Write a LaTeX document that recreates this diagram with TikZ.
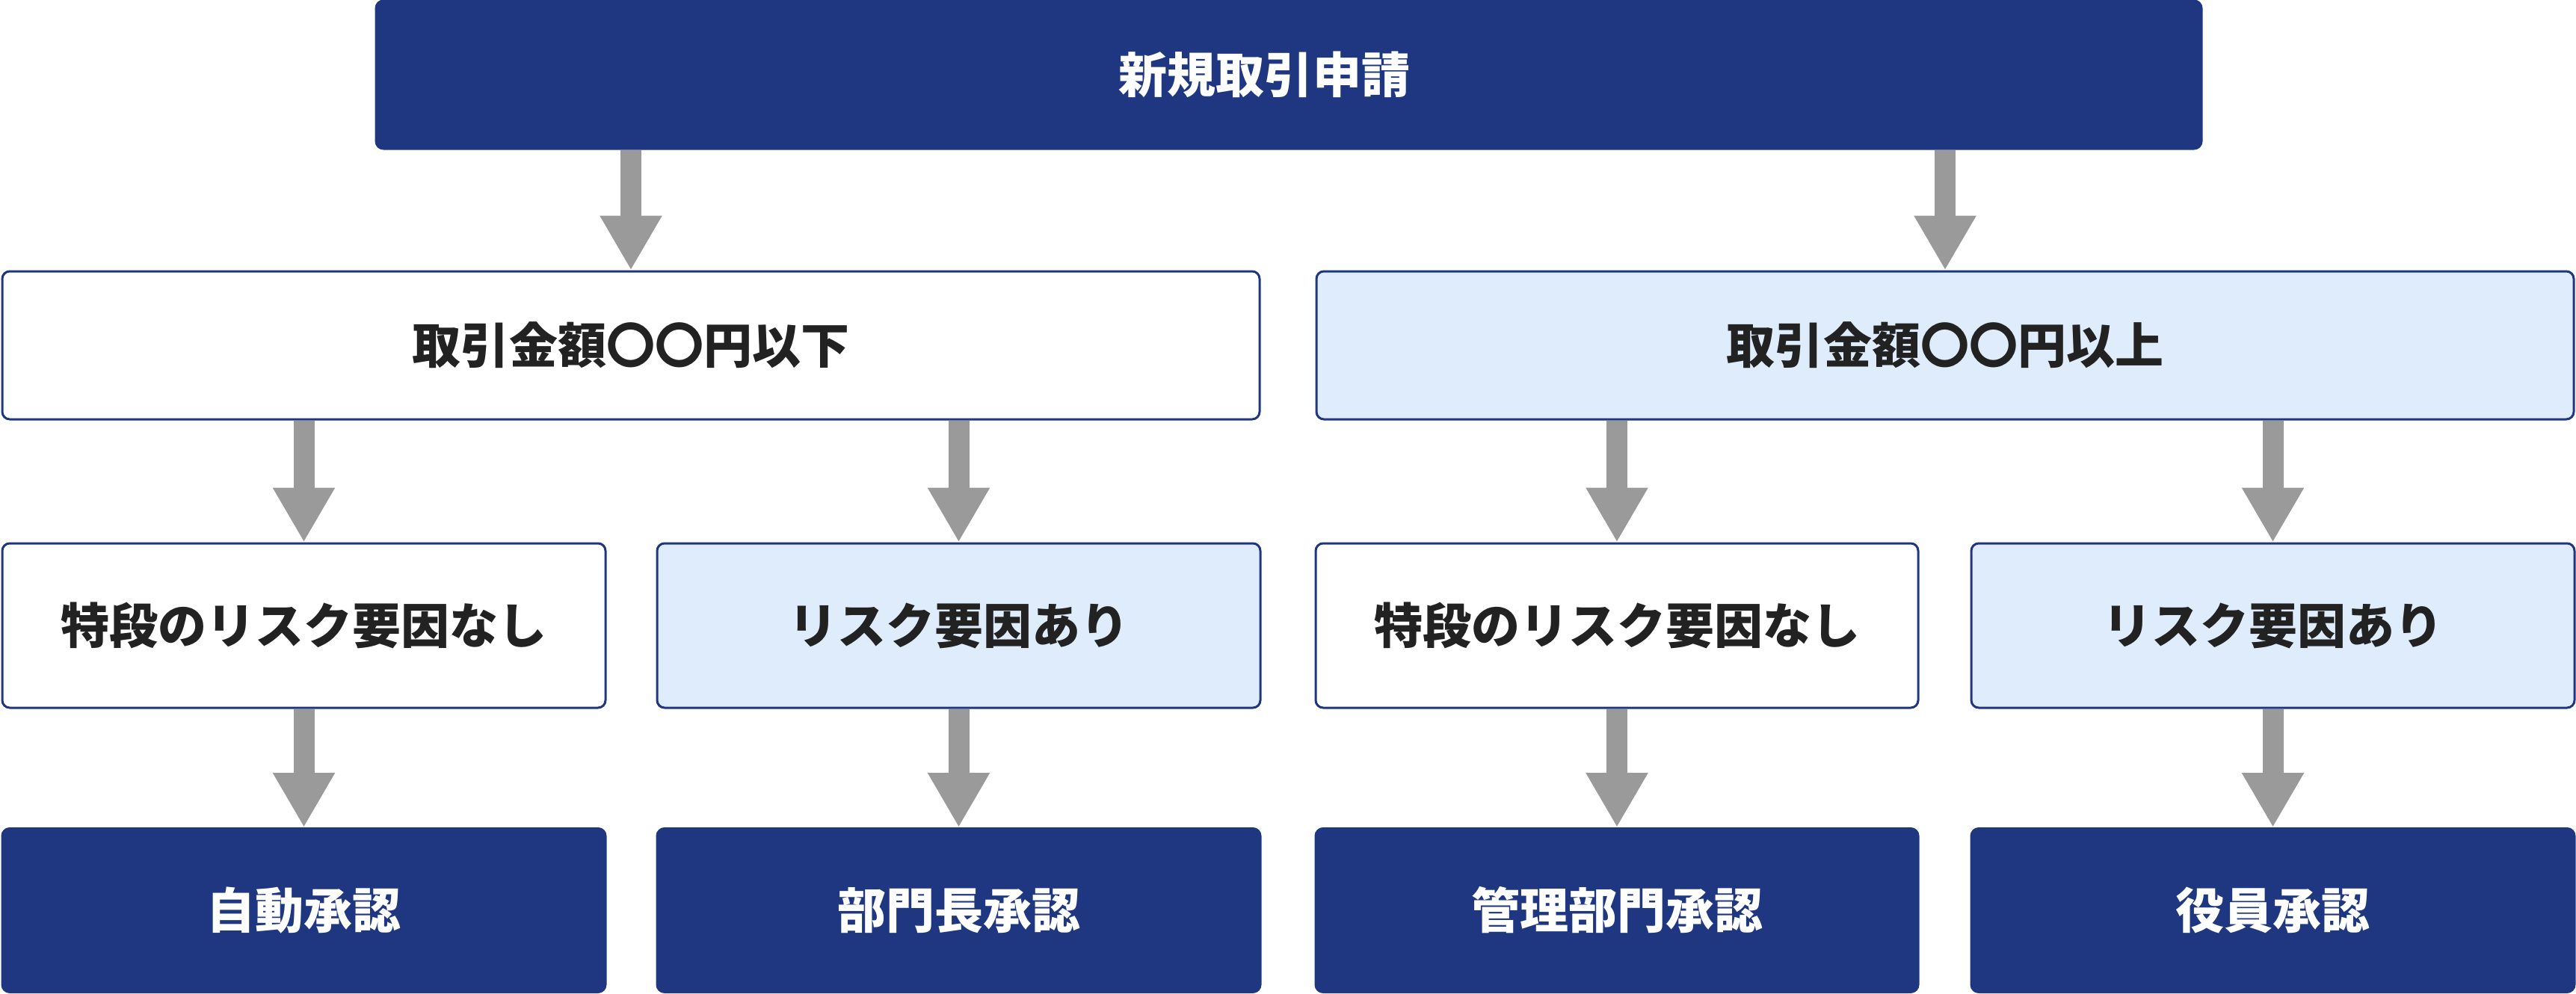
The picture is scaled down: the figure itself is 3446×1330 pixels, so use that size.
\documentclass[tikz,border=0pt]{standalone}
\usepackage{fontspec}
\newfontfamily\jp{Noto Sans CJK JP}
\usetikzlibrary{arrows.meta}
\definecolor{navy}{HTML}{1F3781}
\definecolor{lightblue}{HTML}{DFECFB}
\definecolor{arrowgray}{HTML}{9A9A9A}
\definecolor{txt}{HTML}{222222}
\begin{document}
\begin{tikzpicture}[x=1pt,y=1pt,
  every node/.style={font=\jp\bfseries\fontsize{65}{78}\selectfont},
  boxbase/.style={rectangle,rounded corners=10pt,inner sep=0pt,line width=3pt,draw=navy},
  darkbox/.style={boxbase,fill=navy,text=white},
  whitebox/.style={boxbase,fill=white,text=txt},
  bluebox/.style={boxbase,fill=lightblue,text=txt},
  flowarrow/.style={draw=arrowgray,line width=28pt,-{Triangle[width=78pt,length=73pt]}}
]
\useasboundingbox (0,0) rectangle (3446,-1330);
% level 1
\node[darkbox,minimum width=2442pt,minimum height=198pt] (top) at (1724,-100) {新規取引申請\hspace*{66pt}};
% level 2
\node[whitebox,minimum width=1682pt,minimum height=198pt] (l2a) at (844,-462) {取引金額〇〇円以下};
\node[bluebox,minimum width=1682pt,minimum height=198pt] (l2b) at (2602,-462) {取引金額〇〇円以上};
% level 3
\node[whitebox,minimum width=807pt,minimum height=220pt] (l3a) at (406.5,-837) {特段のリスク要因なし};
\node[bluebox,minimum width=807pt,minimum height=220pt] (l3b) at (1282.5,-837) {リスク要因あり};
\node[whitebox,minimum width=806pt,minimum height=220pt] (l3c) at (2163,-837) {特段のリスク要因なし};
\node[bluebox,minimum width=807pt,minimum height=220pt] (l3d) at (3040.5,-837) {リスク要因あり};
% level 4
\node[darkbox,minimum width=807pt,minimum height=219pt] (l4a) at (406.5,-1218) {自動承認};
\node[darkbox,minimum width=807pt,minimum height=219pt] (l4b) at (1282.5,-1218) {部門長承認};
\node[darkbox,minimum width=806pt,minimum height=219pt] (l4c) at (2163,-1218) {管理部門承認};
\node[darkbox,minimum width=807pt,minimum height=219pt] (l4d) at (3040.5,-1218) {役員承認};
% arrows
\draw[flowarrow] (top.south -| l2a.north) -- (l2a.north);
\draw[flowarrow] (top.south -| l2b.north) -- (l2b.north);
\draw[flowarrow] (l2a.south -| l3a.north) -- (l3a.north);
\draw[flowarrow] (l2a.south -| l3b.north) -- (l3b.north);
\draw[flowarrow] (l2b.south -| l3c.north) -- (l3c.north);
\draw[flowarrow] (l2b.south -| l3d.north) -- (l3d.north);
\draw[flowarrow] (l3a.south) -- (l4a.north);
\draw[flowarrow] (l3b.south) -- (l4b.north);
\draw[flowarrow] (l3c.south) -- (l4c.north);
\draw[flowarrow] (l3d.south) -- (l4d.north);
\end{tikzpicture}
\end{document}
